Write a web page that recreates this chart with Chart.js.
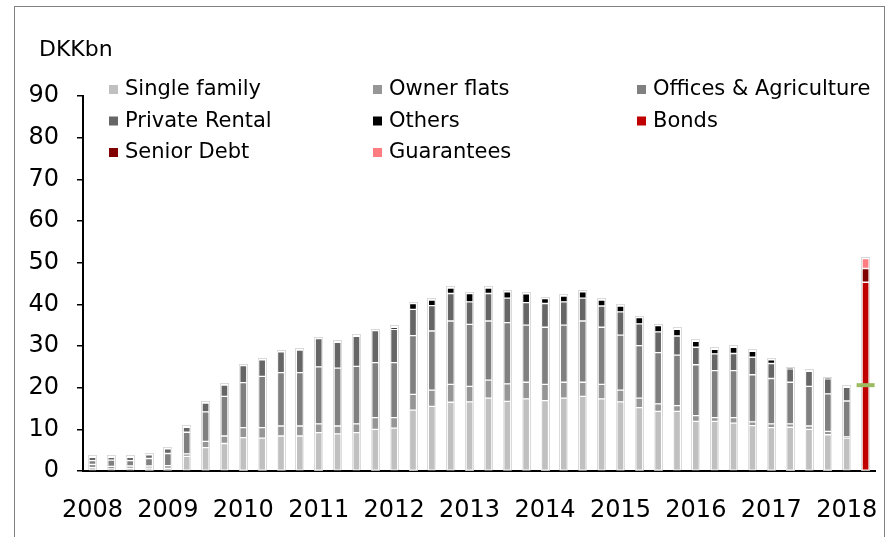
<!DOCTYPE html>
<html>
<head>
<meta charset="UTF-8">
<script src="https://cdn.jsdelivr.net/npm/chart.js@4/dist/chart.umd.min.js"></script>
<style>
  html, body { margin: 0; padding: 0; background: #fff; }
  #wrap { position: relative; width: 891px; height: 537px; }
</style>
</head>
<body>
<div id="wrap"><canvas id="grafica"></canvas></div>
<script>
// quarterly lending 2008Q1 - 2018Q1, last slot = funding bar
const categories = [
  '2008Q1','2008Q2','2008Q3','2008Q4','2009Q1','2009Q2','2009Q3','2009Q4',
  '2010Q1','2010Q2','2010Q3','2010Q4','2011Q1','2011Q2','2011Q3','2011Q4',
  '2012Q1','2012Q2','2012Q3','2012Q4','2013Q1','2013Q2','2013Q3','2013Q4',
  '2014Q1','2014Q2','2014Q3','2014Q4','2015Q1','2015Q2','2015Q3','2015Q4',
  '2016Q1','2016Q2','2016Q3','2016Q4','2017Q1','2017Q2','2017Q3','2017Q4',
  '2018Q1','Funding'
];
const yearTicks = ['2008','2009','2010','2011','2012','2013','2014','2015','2016','2017','2018'];

const singleFamily = [0.8,0.5,0.6,0.7,0.6,3.5,5.6,6.6,8.0,7.9,8.4,8.4,9.2,8.9,9.2,10.0,10.3,14.6,15.5,16.5,16.6,
  17.5,16.7,17.3,16.9,17.5,17.9,17.3,16.6,15.2,14.3,14.3,11.9,11.9,11.5,10.9,10.4,10.5,10.0,8.7,7.9];
const ownerFlats = [0.8,0.6,0.6,0.5,0.7,0.6,1.5,1.8,2.4,2.5,2.4,2.4,2.1,1.9,2.1,2.8,2.5,3.8,3.9,4.3,3.7,
  4.3,4.2,4.0,3.9,3.8,3.4,3.5,2.8,2.3,1.8,1.4,1.4,0.9,1.3,0.9,0.9,0.8,0.8,0.8,0.3];
const officesAgri = [0.9,1.5,1.3,1.8,2.9,5.2,7.1,9.5,10.8,12.3,12.8,12.8,13.7,13.9,13.8,13.2,13.2,14.1,14.2,15.2,14.9,
  14.2,14.7,13.7,13.7,13.7,14.7,13.7,13.2,12.6,12.3,12.1,12.2,11.3,11.3,11.3,10.9,10.0,9.5,9.0,8.6];
const privateRental = [0.8,0.7,0.8,0.9,1.1,1.2,2.1,2.7,4.1,4.0,5.0,5.4,6.8,6.2,7.2,7.7,8.0,6.3,6.1,6.6,5.4,
  6.6,5.9,5.4,5.7,5.6,5.5,5.1,5.6,5.2,5.0,4.6,4.2,4.0,4.1,4.2,3.6,3.2,3.6,3.6,3.3];
const others = [0,0,0,0,0,0,0,0,0,0,0,0,0,0,0,0,0.5,1.4,1.3,1.3,2.0,
  1.3,1.5,2.1,1.2,1.4,1.5,1.4,1.4,1.5,1.5,1.6,1.4,1.1,1.5,1.4,0.9,0.1,0.1,0.1,0];

const bonds = [45.3];
const seniorDebt = [3.3];
const guarantees = [2.4];
const marker = [20.6];

const nLend = singleFamily.length;
const lend = arr => arr.concat([null]);
const fund = arr => new Array(nLend).fill(null).concat(arr);

function bar(label, data, color) {
  return {
    type: 'bar', label, data, backgroundColor: color,
    borderColor: '#ffffff', borderWidth: 1, borderSkipped: false,
    barThickness: 7, stack: 's', order: 1
  };
}

const datasets = [
  bar('Single family', lend(singleFamily), '#c0c0c0'),
  bar('Owner flats', lend(ownerFlats), '#969696'),
  bar('Offices & Agriculture', lend(officesAgri), '#808080'),
  bar('Private Rental', lend(privateRental), '#666666'),
  bar('Others', lend(others), '#000000'),
  bar('Bonds', fund(bonds), '#c00000'),
  bar('Senior Debt', fund(seniorDebt), '#800000'),
  bar('Guarantees', fund(guarantees), '#ff7c80'),
  {
    type: 'line', label: 'marker', data: fund(marker), showLine: false, order: 0,
    pointStyle: 'line', pointRadius: 9, pointHoverRadius: 9,
    borderColor: '#9dbb61', borderWidth: 4
  }
];

const FONT = '"DejaVu Sans", Verdana, sans-serif';

const extras = {
  id: 'extras',
  beforeDraw(chart) {
    const ctx = chart.ctx;
    ctx.save();
    ctx.strokeStyle = '#808080';
    ctx.lineWidth = 1;
    ctx.strokeRect(14.5, 6.5, 870, 600);
    ctx.restore();
  },
  beforeDatasetsDraw(chart) {
    // faint outline round each stacked column
    const ctx = chart.ctx;
    const metas = chart.data.datasets.map((d, i) => d.type === 'bar' ? chart.getDatasetMeta(i) : null).filter(Boolean);
    ctx.save();
    ctx.strokeStyle = '#dadada';
    ctx.lineWidth = 1;
    categories.forEach((c, j) => {
      let top = Infinity, base = -Infinity, x = null, w = 0;
      metas.forEach(m => {
        const el = m.data[j];
        const raw = m._parsed[j] && m._parsed[j].y;
        if (!el || raw == null || isNaN(el.y)) return;
        top = Math.min(top, el.y);
        base = Math.max(base, el.base);
        x = el.x; w = el.width;
      });
      if (x == null) return;
      ctx.strokeRect(Math.round(x - w / 2) - 0.5, Math.round(top) - 1.5, Math.round(w) + 1, base - top + 1);
    });
    ctx.restore();
  },
  afterDraw(chart) {
    const ctx = chart.ctx;
    ctx.save();
    ctx.fillStyle = '#000';
    ctx.textBaseline = 'middle';
    ctx.font = '22px ' + FONT;
    ctx.fillText('DKKbn', 39, 50);
    ctx.font = '21px ' + FONT;
    const colX = [109, 373, 637];
    const rowY = [89, 120.5, 152];
    chart.data.datasets.forEach((ds, i) => {
      if (ds.type !== 'bar') return;
      const cx = colX[i % 3];
      const cy = rowY[Math.floor(i / 3)];
      ctx.fillStyle = ds.backgroundColor;
      ctx.fillRect(cx, cy - 4, 9, 9);
      ctx.fillStyle = '#000';
      ctx.fillText(ds.label, cx + 16, cy + 1);
    });
    ctx.restore();
  }
};

new Chart(document.getElementById('grafica'), {
  data: { labels: categories, datasets },
  options: {
    responsive: true,
    maintainAspectRatio: false,
    animation: false,
    events: [],
    layout: { padding: { top: 96, right: 16, bottom: 0, left: 0 } },
    plugins: { legend: { display: false }, tooltip: { enabled: false } },
    scales: {
      x: {
        stacked: true,
        offset: true,
        grid: { display: true, drawOnChartArea: false, drawTicks: false },
        border: { display: true, color: '#000', width: 2 },
        ticks: {
          autoSkip: false, maxRotation: 0, minRotation: 0, padding: 25,
          color: '#000', font: { family: FONT, size: 24 },
          callback: (v, i) => (i % 4 === 0 && i / 4 < yearTicks.length) ? yearTicks[i / 4] : ''
        },
        afterFit: s => { s.height = 66; }
      },
      y: {
        stacked: true,
        min: 0, max: 90,
        grid: { display: true, drawOnChartArea: false, drawTicks: true, tickLength: 6, color: '#000', lineWidth: 1.5 },
        border: { display: true, color: '#000', width: 2 },
        ticks: { stepSize: 10, padding: 18, color: '#000', font: { family: FONT, size: 24 } },
        afterFit: s => { s.width = 83; }
      }
    }
  },
  plugins: [extras]
});
</script>
</body>
</html>
